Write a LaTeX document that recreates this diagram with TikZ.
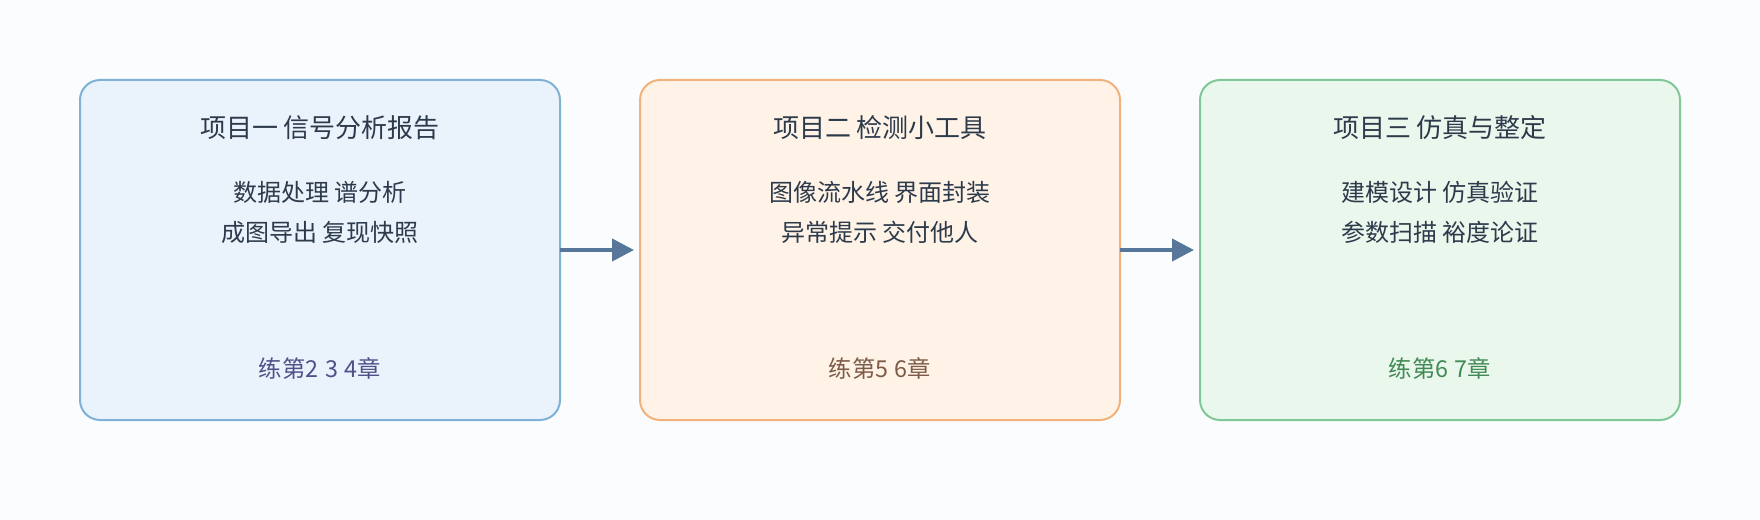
\documentclass[tikz,border=0pt]{standalone}
\usepackage{fontspec}
\usetikzlibrary{arrows.meta}
\newfontfamily\cjk{Noto Sans CJK SC}
\newcommand{\gapsp}{\hspace{5pt}}
\definecolor{bgc}{HTML}{FBFCFE}
\definecolor{fillA}{HTML}{EAF2FB}
\definecolor{drawA}{HTML}{7FB3D6}
\definecolor{fillB}{HTML}{FEF3E6}
\definecolor{drawB}{HTML}{F2B27B}
\definecolor{fillC}{HTML}{EAF7EC}
\definecolor{drawC}{HTML}{80C895}
\definecolor{txt}{HTML}{2C3A4B}
\definecolor{footA}{HTML}{4F528A}
\definecolor{footB}{HTML}{7D5B47}
\definecolor{footC}{HTML}{428A55}
\definecolor{arrowc}{HTML}{56769A}
\tikzset{
  card/.style={draw, line width=1.5pt, rounded corners=15pt, minimum width=360pt, minimum height=255pt, outer sep=0pt, inner sep=0pt},
  ttl/.style={font=\cjk\fontsize{19.5pt}{23pt}\selectfont, text=txt, inner sep=0pt},
  body/.style={font=\cjk\fontsize{18pt}{29.5pt}\selectfont, text=txt, align=center, inner sep=0pt},
  foot/.style={font=\cjk\fontsize{17.5pt}{20pt}\selectfont, inner sep=0pt},
  flow/.style={draw=arrowc, line width=3pt, -{Triangle[length=16.5pt,width=16.5pt]}, shorten >=4.5pt}
}
\begin{document}
\begin{tikzpicture}[x=0.75pt,y=-0.75pt]
\fill[bgc] (0,0) rectangle (1760,520);
\useasboundingbox (0,0) rectangle (1760,520);
\node[card, fill=fillA, draw=drawA] (b1) at (320,250) {};
\node[card, fill=fillB, draw=drawB] (b2) at (880,250) {};
\node[card, fill=fillC, draw=drawC] (b3) at (1440,250) {};
\node[ttl] (t1) at (320,128) {项目一 信号分析报告};
\node[ttl] (t2) at (880,128) {项目二 检测小工具};
\node[ttl] (t3) at (1440,128) {项目三 仿真与整定};
\node[body] (l1) at (320,212.5) {数据处理 谱分析\\成图导出 复现快照};
\node[body] (l2) at (880,212.5) {图像流水线 界面封装\\异常提示 交付他人};
\node[body] (l3) at (1440,212.5) {建模设计 仿真验证\\参数扫描 裕度论证};
\node[foot, text=footA] (f1) at (320,368) {练第2\gapsp 3\gapsp 4章};
\node[foot, text=footB] (f2) at (880,368) {练第5\gapsp 6章};
\node[foot, text=footC] (f3) at (1440,368) {练第6\gapsp 7章};
\draw[flow] (b1.east) -- (b2.west);
\draw[flow] (b2.east) -- (b3.west);
\end{tikzpicture}
\end{document}
